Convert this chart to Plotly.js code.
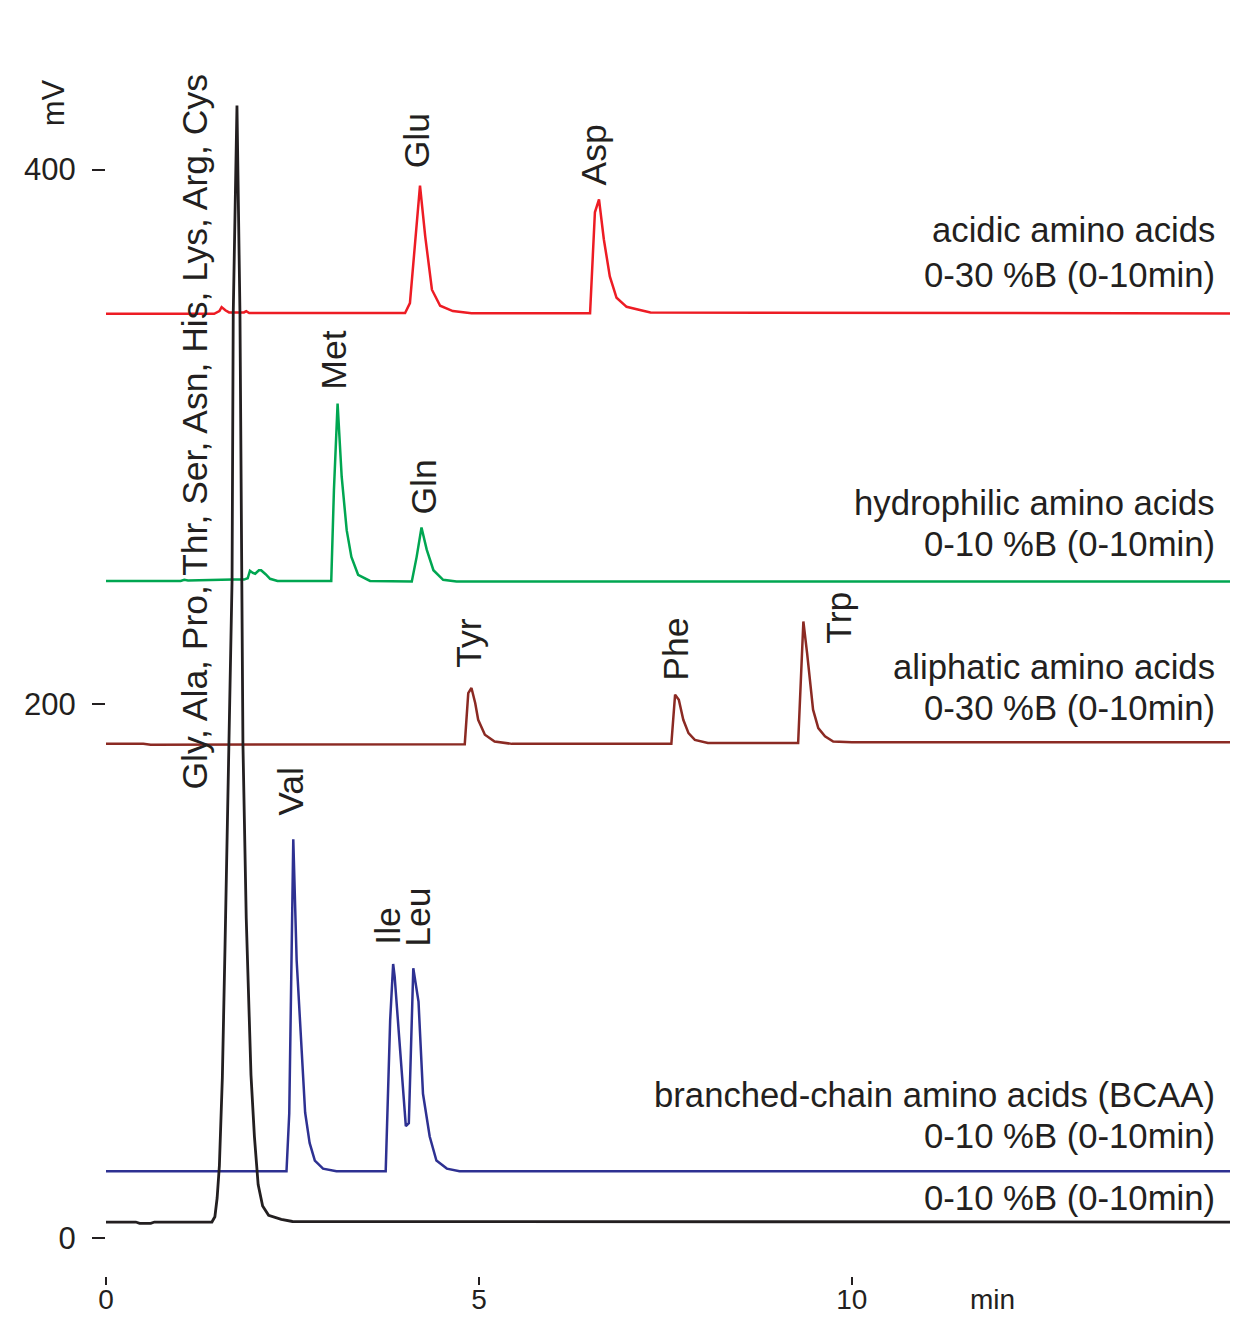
<!DOCTYPE html>
<html>
<head>
<meta charset="utf-8">
<script src="https://cdn.plot.ly/plotly-3.0.1.min.js"></script>
<style>html,body{margin:0;padding:0;background:#fff;}#chart{width:1237px;height:1325px;}</style>
</head>
<body>
<div id="chart"></div>
<script>
// ---- data (time in min, signal in mV) ----
var blackT = [0, 0.4, 0.45, 0.6, 0.65, 1.42, 1.46, 1.49, 1.52, 1.56, 1.595, 1.65, 1.69, 1.706, 1.756, 1.796, 1.819, 1.836, 1.88, 1.944, 1.99, 2.04, 2.10, 2.18, 2.35, 2.5, 15.07];
var blackV = [6, 6, 5.5, 5.5, 6, 6, 8, 15, 27, 60, 108, 185, 246, 346, 424, 346, 246, 185, 120, 61, 38, 20, 12, 8.5, 7, 6.2, 6.0];

var blueT = [0, 0.3, 0.35, 2.42, 2.457, 2.511, 2.556, 2.62, 2.67, 2.73, 2.80, 2.91, 3.09, 3.75, 3.81, 3.85, 3.87, 3.93, 4.02, 4.06, 4.12, 4.19, 4.25, 4.34, 4.43, 4.57, 4.74, 15.07];
var blueV = [25, 25, 24.8, 25, 46.7, 149.3, 104, 69, 47, 35.6, 29, 26, 25, 25, 81.6, 102.6, 98, 75.4, 41.9, 43, 101, 88.5, 54, 38, 29, 26, 25, 25];

var redT = [0, 1.45, 1.52, 1.55, 1.60, 1.65, 1.85, 1.88, 1.92, 4.01, 4.075, 4.14, 4.21, 4.28, 4.37, 4.48, 4.65, 4.9, 6.49, 6.555, 6.61, 6.675, 6.755, 6.845, 6.98, 7.13, 7.3, 15.07];
var redV = [346, 346, 347, 348.5, 347.3, 346.5, 346.5, 347, 346.3, 346.3, 350, 372.5, 394, 375, 355, 349, 347, 346.2, 346.2, 384, 388.8, 373.8, 360, 352, 348.6, 347.6, 346.5, 346.1];

var greenT = [0, 1.0, 1.05, 1.1, 1.7, 1.85, 1.90, 1.93, 1.97, 2.0, 2.05, 2.08, 2.14, 2.2, 2.3, 3.02, 3.056, 3.105, 3.16, 3.227, 3.29, 3.38, 3.54, 4.10, 4.165, 4.23, 4.30, 4.39, 4.52, 4.7, 15.07];
var greenV = [246, 246, 246.4, 246.2, 246.5, 246.5, 247, 249.8, 249, 248.7, 250, 250, 248.5, 246.8, 246, 246, 280, 312.4, 285, 265, 255, 248.3, 246, 245.8, 255, 266, 257.7, 250, 246.4, 245.8, 245.8];

var brownT = [0, 0.5, 0.6, 3.1, 4.81, 4.857, 4.90, 4.95, 4.99, 5.08, 5.21, 5.44, 7.58, 7.63, 7.68, 7.74, 7.81, 7.895, 8.07, 9.28, 9.32, 9.35, 9.40, 9.48, 9.55, 9.64, 9.75, 10.0, 15.07];
var brownV = [185, 185, 184.7, 184.8, 184.9, 204, 205.9, 200.3, 194, 188.4, 185.9, 185, 185, 203.4, 201.5, 194, 189, 186.5, 185.3, 185.3, 210.2, 230.8, 219, 197.8, 190.9, 187.8, 185.9, 185.6, 185.6];

var yTickVals = [0, 200, 400];
var xTickVals = [0, 5, 10];

// peak labels: [text, x(min), y(mV)]
var peakLabels = [
  ["Gly, Ala, Pro, Thr, Ser, Asn, His, Lys, Arg, Cys", 1.193, 301.9],
  ["Glu", 4.169, 410.9],
  ["Asp", 6.542, 405.6],
  ["Met", 3.056, 328.8],
  ["Gln", 4.263, 281.3],
  ["Tyr", 4.866, 222.8],
  ["Phe", 7.641, 220.6],
  ["Trp", 9.826, 232.2],
  ["Val", 2.48, 167.4],
  ["Ile", 3.78, 116.9],
  ["Leu", 4.18, 120.2]
];
// trace descriptions: [text, y(mV)]
var descLabels = [
  ["acidic amino acids", 377.2],
  ["0-30 %B (0-10min)", 360.7],
  ["hydrophilic amino acids", 275.3],
  ["0-10 %B (0-10min)", 259.9],
  ["aliphatic amino acids", 213.9],
  ["0-30 %B (0-10min)", 198.5],
  ["branched-chain amino acids (BCAA)", 53.6],
  ["0-10 %B (0-10min)", 38.2],
  ["0-10 %B (0-10min)", 15.0]
];

var TXT = '#231f20';
var FONT = 'Liberation Sans, Arial, sans-serif';

function line(x, y, color, w) {
  return {x: x, y: y, type: 'scatter', mode: 'lines', line: {color: color, width: w, shape: 'linear'}, hoverinfo: 'skip', showlegend: false};
}

var traces = [
  line(redT, redV, '#ed1c24', 2.5),
  line(greenT, greenV, '#00a651', 2.5),
  line(brownT, brownV, '#8b2a23', 2.5),
  line(blueT, blueV, '#2e3192', 2.5),
  line(blackT, blackV, '#231f20', 2.8)
];

var annotations = [];
peakLabels.forEach(function (p) {
  annotations.push({x: p[1], y: p[2], xref: 'x', yref: 'y', text: p[0], showarrow: false, textangle: -90,
    xanchor: 'center', yanchor: 'middle', font: {family: FONT, size: 35.5, color: TXT}});
});
descLabels.forEach(function (d) {
  annotations.push({x: 14.89, y: d[1], xref: 'x', yref: 'y', text: d[0], showarrow: false,
    xanchor: 'right', yanchor: 'middle', font: {family: FONT, size: 34.7, color: TXT}});
});
annotations.push({x: -0.0472, y: 0.9652, xref: 'paper', yref: 'paper', text: 'mV', showarrow: false, textangle: -90,
  xanchor: 'center', yanchor: 'middle', font: {family: FONT, size: 31, color: TXT}});
annotations.push({x: 0.7883, y: -0.0197, xref: 'paper', yref: 'paper', text: 'min', showarrow: false,
  xanchor: 'center', yanchor: 'middle', font: {family: FONT, size: 28, color: TXT}});

var layout = {
  width: 1237, height: 1325,
  margin: {l: 106, r: 7, t: 60, b: 49, pad: 0},
  paper_bgcolor: '#ffffff', plot_bgcolor: '#ffffff',
  showlegend: false,
  xaxis: {range: [0, 15.07], tickvals: xTickVals, ticktext: xTickVals.map(String), ticks: 'outside', ticklen: 8, tickwidth: 2,
    tickcolor: TXT, showgrid: false, zeroline: false, showline: false, ticklabelstandoff: -10,
    tickfont: {family: FONT, size: 28, color: TXT}},
  yaxis: {range: [-14.2, 441], tickvals: yTickVals, ticktext: yTickVals.map(String), ticks: 'outside', ticklen: 13, tickwidth: 2,
    tickcolor: TXT, showgrid: false, zeroline: false, showline: false, ticklabelstandoff: 10,
    tickfont: {family: FONT, size: 31, color: TXT}},
  annotations: annotations
};

Plotly.newPlot('chart', traces, layout, {displayModeBar: false, staticPlot: true});
</script>
</body>
</html>
